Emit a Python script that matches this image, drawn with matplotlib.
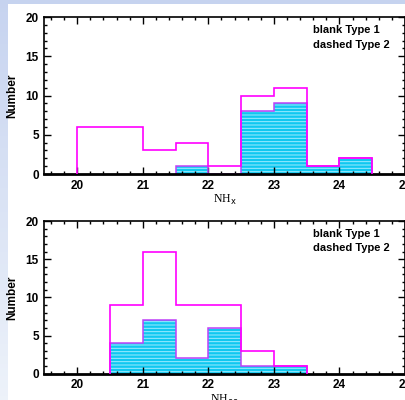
import numpy as np
import matplotlib
matplotlib.use("Agg")
import matplotlib.pyplot as plt
from matplotlib.ticker import MultipleLocator

# top panel: NH_x
top_edges1 = [20.0, 20.5, 21.0, 21.5, 22.0, 22.5, 23.0, 23.5, 24.0, 24.5]
top_type1 = [6, 6, 3, 4, 1, 10, 11, 1, 2]
top_edges2 = [21.5, 22.0, 22.5, 23.0, 23.5, 24.0, 24.5]
top_type2 = [1, 0, 8, 9, 1, 2]

# bottom panel
bot_edges = [20.5, 21.0, 21.5, 22.0, 22.5, 23.0, 23.5]
bot_type1 = [9, 16, 9, 9, 3, 1]
bot_type2 = [4, 7, 2, 6, 1, 1]

legend_lines = ["blank Type 1", "dashed Type 2"]
xlabels = ["NH$_{\\rm x}$", "NH$_{\\rm oo}$"]

plt.rcParams["hatch.linewidth"] = 0.7

W, H = 406, 400
fig = plt.figure(figsize=(W / 100, H / 100), dpi=100)

# slide background: light blue strip along left and top edges
bg = fig.add_axes([0, 0, 1, 1])
grad = np.linspace(0, 1, 100).reshape(-1, 1)
c_top = np.array([0.78, 0.83, 0.94])
c_bot = np.array([0.93, 0.95, 0.98])
img = c_top[None, None, :] * (1 - grad[:, :, None]) + c_bot[None, None, :] * grad[:, :, None]
bg.imshow(img, aspect="auto", extent=[0, 1, 0, 1], origin="upper")
bg.add_patch(plt.Rectangle((8 / W, 0), 1, 1 - 4 / H, color="white", lw=0))
bg.set_xlim(0, 1)
bg.set_ylim(0, 1)
bg.axis("off")

magenta = "#ff00ff"
cyan = "#10c8f0"
stripe = "#a0ecff"


def panel(rect, e1, v1, e2, v2, xlabel):
    ax = fig.add_axes(rect)
    ax.stairs(v2, e2, fill=True, facecolor=cyan, edgecolor=stripe,
              hatch="-----", linewidth=0, zorder=1)
    ax.stairs(v2, e2, color="#c040f8", linewidth=1.1, zorder=2)
    ax.stairs(v1, e1, color=magenta, linewidth=1.2, zorder=3)
    ax.set_xlim(19.5, 25)
    ax.set_ylim(0, 20)
    ax.xaxis.set_major_locator(MultipleLocator(1))
    ax.xaxis.set_minor_locator(MultipleLocator(0.2))
    ax.yaxis.set_major_locator(MultipleLocator(5))
    ax.yaxis.set_minor_locator(MultipleLocator(1))
    ax.tick_params(which="both", direction="in", top=True, right=True,
                   color="black", width=1)
    ax.tick_params(which="major", length=5, pad=4)
    ax.tick_params(which="minor", length=2.5)
    for lab in ax.get_xticklabels() + ax.get_yticklabels():
        lab.set_fontfamily("Liberation Sans")
        lab.set_fontweight("bold")
        lab.set_fontsize(8.5)
    for s in ax.spines.values():
        s.set_linewidth(1.2)
    ax.spines["bottom"].set_linewidth(2)
    ax.set_ylabel("Number", fontfamily="Liberation Sans", fontweight="bold",
                  fontsize=8.5, labelpad=5)
    ax.set_xlabel(xlabel, fontfamily="Liberation Serif", fontsize=8.5, labelpad=1)
    ax.text(0.745, 0.917, legend_lines[0], transform=ax.transAxes, ha="left",
            va="center", fontfamily="Liberation Sans", fontweight="bold", fontsize=8)
    ax.text(0.745, 0.822, legend_lines[1], transform=ax.transAxes, ha="left",
            va="center", fontfamily="Liberation Sans", fontweight="bold", fontsize=8)
    return ax


left = 44.5 / W
width = 405 / W - left
panel([left, 1 - 174 / H, width, (174 - 17) / H], top_edges1, top_type1,
      top_edges2, top_type2, xlabels[0])
panel([left, 1 - 373.7 / H, width, (373.7 - 221) / H], bot_edges, bot_type1,
      bot_edges, bot_type2, xlabels[1])

fig.savefig("out.png", dpi=100)
